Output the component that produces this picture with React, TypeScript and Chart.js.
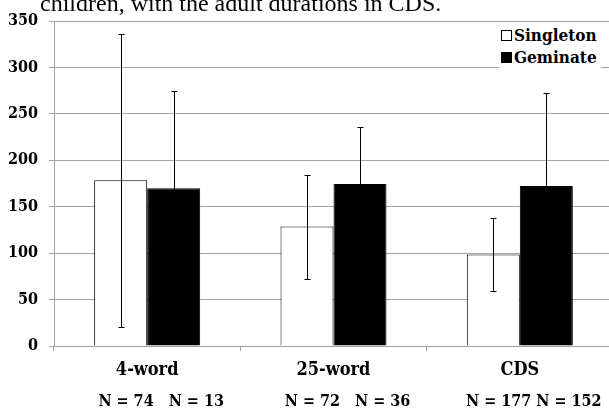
import { useEffect, useRef } from "react";
import { Chart, registerables, Plugin } from "chart.js";

Chart.register(...registerables);

const categories = ["4-word", "25-word", "CDS"];
const singletonMeans = [178.5, 128.6, 98.5];
const singletonSD = [158, 56, 39.7];
const geminateMeans = [169.9, 174.5, 172.4];
const geminateSD = [104.6, 61.3, 100.3];
const sampleSizes = ["N = 74   N = 13", "N = 72   N = 36", "N = 177 N = 152"];
const yMin = 0;
const yMax = 350;
const yStep = 50;

const FONT = "'DejaVu Serif Condensed', 'Liberation Serif', serif";
const GRID = "#a3a3a3";

const errorBars: Plugin<"bar"> = {
  id: "errorBars",
  afterDatasetsDraw(chart) {
    const { ctx } = chart;
    const y = chart.scales.y;
    const sds = [singletonSD, geminateSD];
    const means = [singletonMeans, geminateMeans];
    ctx.save();
    ctx.strokeStyle = "#000";
    ctx.lineWidth = 1;
    chart.data.datasets.forEach((_, i) => {
      const meta = chart.getDatasetMeta(i);
      meta.data.forEach((bar, j) => {
        const x = Math.round(bar.x) + 0.5;
        const top = Math.round(y.getPixelForValue(means[i][j] + sds[i][j])) + 0.5;
        const bot = Math.round(y.getPixelForValue(means[i][j] - sds[i][j])) + 0.5;
        ctx.beginPath();
        ctx.moveTo(x, top);
        ctx.lineTo(x, bot);
        ctx.moveTo(x - 3, top);
        ctx.lineTo(x + 3, top);
        ctx.moveTo(x - 3, bot);
        ctx.lineTo(x + 3, bot);
        ctx.stroke();
      });
    });
    ctx.restore();
  },
};

const sampleLabels: Plugin<"bar"> = {
  id: "sampleLabels",
  afterDraw(chart) {
    const { ctx } = chart;
    const x = chart.scales.x;
    ctx.save();
    ctx.fillStyle = "#000";
    ctx.font = `bold 16px ${FONT}`;
    ctx.textAlign = "center";
    ctx.textBaseline = "alphabetic";
    sampleSizes.forEach((s, j) => {
      ctx.fillText(s, x.getPixelForValue(j) + 14, 406);
    });
    ctx.restore();
  },
};

export default function App() {
  const canvasRef = useRef<HTMLCanvasElement>(null);

  useEffect(() => {
    if (!canvasRef.current) return;
    const chart = new Chart(canvasRef.current, {
      type: "bar",
      data: {
        labels: categories,
        datasets: [
          {
            label: "Singleton",
            data: singletonMeans,
            backgroundColor: "#fff",
            borderColor: "#000",
            borderWidth: 1,
          },
          {
            label: "Geminate",
            data: geminateMeans,
            backgroundColor: "#000",
            borderColor: "#000",
            borderWidth: 1,
          },
        ],
      },
      options: {
        animation: false,
        responsive: false,
        devicePixelRatio: 1,
        layout: { padding: { top: 21, right: 9, left: 0, bottom: 0 } },
        datasets: {
          bar: { categoryPercentage: 0.569, barPercentage: 1 },
        },
        plugins: {
          legend: { display: false },
          tooltip: { enabled: false },
        },
        scales: {
          x: {
            afterFit: (s) => {
              s.height = 63;
            },
            grid: {
              display: true,
              drawOnChartArea: false,
              drawTicks: true,
              tickLength: 5,
              offset: true,
              color: GRID,
            },
            border: { display: true, color: GRID },
            ticks: {
              color: "#000",
              padding: 9,
              font: { family: FONT, size: 18, weight: "bold" },
            },
          },
          y: {
            min: yMin,
            max: yMax,
            afterFit: (s) => {
              s.width = 54;
            },
            grid: { color: GRID, tickLength: 5 },
            border: { display: true, color: GRID },
            ticks: {
              stepSize: yStep,
              color: "#000",
              padding: 11,
              font: { family: FONT, size: 16, weight: "bold" },
            },
          },
        },
      },
      plugins: [errorBars, sampleLabels],
    });
    return () => chart.destroy();
  }, []);

  const legendItem = (fill: string, text: string) => (
    <div style={{ display: "flex", alignItems: "center", height: 22 }}>
      <span
        style={{
          display: "inline-block",
          width: 9,
          height: 9,
          border: "1px solid #000",
          background: fill,
          marginRight: 2,
        }}
      />
      <span>{text}</span>
    </div>
  );

  return (
    <div
      style={{
        position: "fixed",
        left: 0,
        top: 0,
        width: 609,
        height: 409,
        overflow: "hidden",
        background: "#fff",
      }}
    >
      <canvas ref={canvasRef} width={622} height={409} style={{ position: "absolute", left: 0, top: 0 }} />
      <div
        style={{
          position: "absolute",
          left: 40,
          top: -9,
          fontFamily: "'Liberation Serif', serif",
          fontSize: 24,
          lineHeight: "24px",
          whiteSpace: "nowrap",
          color: "#000",
        }}
      >
        children, with the adult durations in CDS.
      </div>
      <div
        style={{
          position: "absolute",
          left: 499,
          top: 24,
          padding: "0 4px 0 2px",
          background: "#fff",
          fontFamily: FONT,
          fontWeight: "bold",
          fontSize: 17,
          color: "#000",
        }}
      >
        {legendItem("#fff", "Singleton")}
        {legendItem("#000", "Geminate")}
      </div>
    </div>
  );
}
